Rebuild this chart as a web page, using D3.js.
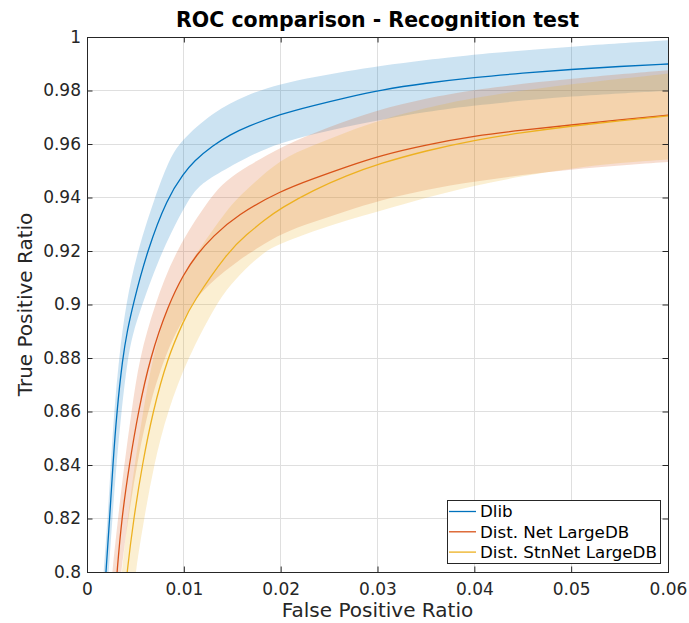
<!DOCTYPE html>
<html>
<head>
<meta charset="utf-8">
<script src="https://cdn.jsdelivr.net/npm/d3@7"></script>
<style>
  body { margin: 0; background: #fff; }
  text { font-family: "DejaVu Sans", sans-serif; fill: #262626; }
</style>
</head>
<body>
<div id="chart"></div>
<script>
// values, [false positive ratio, true positive ratio]
var xTicks = [0, 0.01, 0.02, 0.03, 0.04, 0.05, 0.06];
var yTicks = [0.8, 0.82, 0.84, 0.86, 0.88, 0.9, 0.92, 0.94, 0.96, 0.98, 1];
var seriesNames = ["Dlib", "Dist. Net LargeDB", "Dist. StnNet LargeDB"];

var dlibMean = [[0.00177,0.79],[0.00196,0.80],[0.00234,0.82],[0.00267,0.84],[0.00308,0.86],[0.00368,0.88],[0.00415,0.89],[0.00475,0.90],[0.0062,0.92],[0.0083,0.94],[0.010,0.949],[0.011,0.9535],[0.013,0.9595],[0.0148,0.9635],[0.0165,0.9665],[0.020,0.9712],[0.0234,0.9744],[0.0268,0.9774],[0.0303,0.9802],[0.035,0.9828],[0.040,0.9849],[0.045,0.9865],[0.050,0.9879],[0.055,0.989],[0.060,0.9899],[0.0605,0.99]];
var dlibUpper = [[0.0015,0.79],[0.00172,0.80],[0.00213,0.82],[0.00245,0.84],[0.0028,0.86],[0.0033,0.88],[0.0040,0.90],[0.0052,0.92],[0.0070,0.94],[0.0084,0.9535],[0.0096,0.961],[0.013,0.972],[0.0165,0.9785],[0.020,0.9825],[0.0234,0.985],[0.0268,0.9872],[0.0303,0.9892],[0.035,0.9914],[0.040,0.9935],[0.050,0.9965],[0.0605,0.9989]];
var dlibLower = [[0.00205,0.79],[0.00224,0.80],[0.00262,0.82],[0.00303,0.84],[0.00355,0.86],[0.0042,0.88],[0.0048,0.89],[0.0057,0.90],[0.0077,0.92],[0.0104,0.939],[0.0115,0.944],[0.0128,0.9475],[0.0165,0.9552],[0.020,0.9605],[0.0234,0.9637],[0.0268,0.9665],[0.0303,0.969],[0.035,0.972],[0.040,0.9745],[0.050,0.978],[0.0605,0.980]];

var netMean = [[0.0029,0.79],[0.0031,0.80],[0.00358,0.82],[0.00436,0.84],[0.0053,0.86],[0.0065,0.88],[0.0084,0.90],[0.010,0.9115],[0.0113,0.9185],[0.013,0.9255],[0.0155,0.9335],[0.020,0.9425],[0.0234,0.9471],[0.0268,0.9515],[0.0303,0.9557],[0.035,0.9597],[0.040,0.963],[0.045,0.9652],[0.050,0.9671],[0.055,0.969],[0.060,0.9708],[0.0605,0.971]];
var netUpper = [[0.0024,0.79],[0.0026,0.80],[0.0032,0.82],[0.00384,0.84],[0.0046,0.86],[0.0054,0.88],[0.0070,0.90],[0.0091,0.92],[0.0127,0.94],[0.0144,0.9465],[0.0165,0.9515],[0.020,0.959],[0.025,0.9665],[0.030,0.9728],[0.035,0.977],[0.040,0.9805],[0.050,0.9845],[0.0605,0.9877]];
var netLower = [[0.0031,0.7835],[0.0036,0.8035],[0.0044,0.8235],[0.0053,0.8435],[0.0065,0.8635],[0.0083,0.8835],[0.0101,0.8955],[0.0113,0.9025],[0.013,0.909],[0.0155,0.916],[0.0165,0.9185],[0.020,0.9266],[0.0234,0.9308],[0.0268,0.935],[0.0303,0.939],[0.035,0.943],[0.040,0.9459],[0.045,0.9485],[0.050,0.9505],[0.055,0.952],[0.0605,0.9534]];

var stnMean = [[0.0039,0.79],[0.00413,0.80],[0.00482,0.82],[0.0057,0.84],[0.0068,0.86],[0.0083,0.88],[0.0100,0.894],[0.0108,0.90],[0.0146,0.92],[0.0165,0.9262],[0.0183,0.9315],[0.020,0.936],[0.0234,0.9428],[0.0268,0.9482],[0.0303,0.9528],[0.035,0.9575],[0.040,0.9615],[0.045,0.9643],[0.050,0.9667],[0.055,0.9687],[0.060,0.9705],[0.0605,0.9707]];
var stnUpper = [[0.0033,0.79],[0.0036,0.80],[0.0042,0.82],[0.0049,0.84],[0.0058,0.86],[0.0067,0.879],[0.0080,0.896],[0.0100,0.9115],[0.0108,0.9165],[0.0146,0.9365],[0.0165,0.943],[0.020,0.9545],[0.0234,0.9595],[0.0268,0.9645],[0.0303,0.969],[0.035,0.9735],[0.040,0.9775],[0.050,0.9825],[0.0605,0.9865]];
var stnLower = [[0.0048,0.79],[0.0050,0.80],[0.0059,0.82],[0.0069,0.84],[0.0083,0.86],[0.0104,0.88],[0.0133,0.90],[0.0150,0.9085],[0.0183,0.92],[0.020,0.9228],[0.0234,0.9275],[0.0268,0.9315],[0.0303,0.935],[0.035,0.940],[0.040,0.9445],[0.045,0.948],[0.050,0.9509],[0.055,0.953],[0.0605,0.9543]];

var colors = ["#0072BD", "#D95319", "#EDB120"];

var Chart = (function () {
    "use strict";
    const width = 689, height = 623,
        left = 87, right = 668, top = 37, bottom = 572,
        axisColor = "#262626", gridColor = "#dfdfdf";

    var svg, x, y;

    function init() {
        svg = d3.select("#chart").append("svg")
            .attr("width", width)
            .attr("height", height);

        x = d3.scaleLinear().domain([0, 0.06]).range([left, right]);
        y = d3.scaleLinear().domain([0.8, 1]).range([bottom, top]);

        svg.append("defs").append("clipPath").attr("id", "plotclip")
            .append("rect")
            .attr("x", left).attr("y", top)
            .attr("width", right - left).attr("height", bottom - top);

        drawGrid();
        drawData();
        drawAxes();
        drawLabels();
        drawLegend();
    }

    function drawGrid() {
        var g = svg.append("g").attr("shape-rendering", "crispEdges");
        g.selectAll(".gx").data(xTicks.slice(1, -1)).enter().append("line")
            .attr("x1", d => x(d)).attr("x2", d => x(d))
            .attr("y1", top).attr("y2", bottom)
            .attr("stroke", gridColor);
        g.selectAll(".gy").data(yTicks.slice(1, -1)).enter().append("line")
            .attr("x1", left).attr("x2", right)
            .attr("y1", d => y(d)).attr("y2", d => y(d))
            .attr("stroke", gridColor);
    }

    function drawData() {
        var plot = svg.append("g").attr("clip-path", "url(#plotclip)");
        var line = d3.line()
            .x(d => x(d[0]))
            .y(d => y(d[1]))
            .curve(d3.curveBasis);

        // shaded spread: upper edge forward, lower edge back
        var bands = [[dlibUpper, dlibLower], [netUpper, netLower], [stnUpper, stnLower]];
        bands.forEach(function (b, i) {
            var up = line(b[0]);
            var lo = line(b[1].slice().reverse());
            plot.append("path")
                .attr("d", up + "L" + lo.slice(1) + "Z")
                .attr("fill", colors[i])
                .attr("fill-opacity", 0.2)
                .attr("stroke", "none");
        });

        [dlibMean, netMean, stnMean].forEach(function (m, i) {
            plot.append("path")
                .attr("d", line(m))
                .attr("fill", "none")
                .attr("stroke", colors[i])
                .attr("stroke-width", 1.3);
        });
    }

    function drawAxes() {
        var fmt = d3.format("");
        var ax = [
            { a: d3.axisBottom(x).tickValues(xTicks).tickFormat(fmt).tickPadding(11), t: "translate(0," + bottom + ")" },
            { a: d3.axisTop(x).tickValues(xTicks).tickFormat(""), t: "translate(0," + top + ")" },
            { a: d3.axisLeft(y).tickValues(yTicks).tickFormat(fmt).tickPadding(6), t: "translate(" + left + ",0)" },
            { a: d3.axisRight(y).tickValues(yTicks).tickFormat(""), t: "translate(" + right + ",0)" }
        ];
        ax.forEach(function (o) {
            var g = svg.append("g")
                .attr("transform", o.t)
                .call(o.a.tickSizeInner(-5.5).tickSizeOuter(0));
            g.select(".domain").attr("stroke", axisColor).attr("shape-rendering", "crispEdges");
            g.selectAll(".tick line").attr("stroke", axisColor);
            g.selectAll(".tick text")
                .attr("fill", axisColor)
                .style("font-family", "DejaVu Sans")
                .style("font-size", "17px");
        });
    }

    function drawLabels() {
        svg.append("text")
            .attr("x", (left + right) / 2).attr("y", 27)
            .attr("text-anchor", "middle")
            .style("font-size", "20.5px").style("font-weight", "bold")
            .style("fill", "#000")
            .text("ROC comparison - Recognition test");

        svg.append("text")
            .attr("x", (left + right) / 2).attr("y", 617)
            .attr("text-anchor", "middle")
            .style("font-size", "20px")
            .text("False Positive Ratio");

        svg.append("text")
            .attr("transform", "translate(32," + (top + bottom) / 2 + ") rotate(-90)")
            .attr("text-anchor", "middle")
            .style("font-size", "20px")
            .text("True Positive Ratio");
    }

    function drawLegend() {
        var lx = 447, ly = 500, lw = 213, lh = 63, row = 20.3;
        var lg = svg.append("g");
        lg.append("rect")
            .attr("x", lx + 0.5).attr("y", ly + 0.5)
            .attr("width", lw).attr("height", lh)
            .attr("fill", "#fff")
            .attr("stroke", axisColor)
            .attr("stroke-width", 1);

        var items = lg.selectAll(".item").data(seriesNames).enter().append("g")
            .attr("transform", (d, i) => "translate(" + lx + "," + (ly + 11.5 + i * row) + ")");
        items.append("line")
            .attr("x1", 2).attr("x2", 29)
            .attr("y1", 0).attr("y2", 0)
            .attr("stroke", (d, i) => colors[i])
            .attr("stroke-width", 1.3);
        items.append("text")
            .attr("x", 33).attr("y", 0)
            .attr("dy", "0.35em")
            .style("font-size", "16.7px")
            .style("fill", "#000")
            .text(d => d);
    }

    return { init: init };
})();

Chart.init();
</script>
</body>
</html>
